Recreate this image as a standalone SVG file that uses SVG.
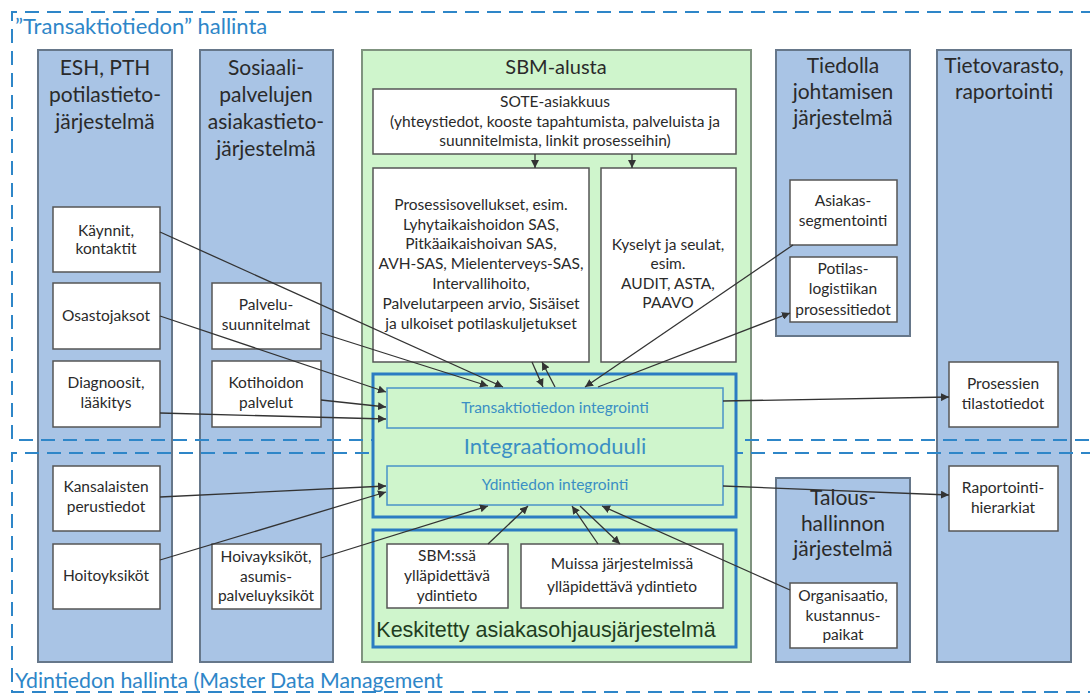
<svg xmlns="http://www.w3.org/2000/svg" width="1090" height="698" viewBox="0 0 1090 698">
<defs>
<marker id="ah" viewBox="0 0 8 8" markerWidth="8" markerHeight="8" refX="8" refY="4" orient="auto" markerUnits="userSpaceOnUse">
<path d="M0,0 L8,4 L0,8 z" fill="#333"/>
</marker>
<style>
.col{fill:#a9c4e5;stroke:#66778a;stroke-width:2}
.box{fill:#fff;stroke:#555;stroke-width:1.5}
.grn{fill:#cff5cc;stroke:#7f937f;stroke-width:2}
.bbox{fill:#cff5cc;stroke:#2b7cc2;stroke-width:3}
.ibox{fill:#cff5cc;stroke:#4a93c8;stroke-width:1.5}
.dash{fill:none;stroke:#2e86c8;stroke-width:2;stroke-dasharray:14 8}
.hd{font-family:Lato,"Liberation Sans",sans-serif;font-size:21px;fill:#2a2a2a;text-anchor:middle}
.t{font-family:Lato,"Liberation Sans",sans-serif;font-size:15.5px;fill:#2a2a2a;text-anchor:middle}
.bl{font-family:Lato,"Liberation Sans",sans-serif;fill:#3a8fc4;text-anchor:middle}
.ttl{font-family:Lato,"Liberation Sans",sans-serif;font-size:22px;fill:#2e86c8}
.con{fill:none;stroke:#333;stroke-width:1.3;marker-end:url(#ah)}
</style>
</defs>
<rect width="1090" height="698" fill="#fff"/>

<g id="col-esh">
<rect class="col" x="38" y="50" width="134" height="612"/>
<text class="hd" x="105" y="75">ESH, PTH</text>
<text class="hd" x="105" y="102">potilastieto-</text>
<text class="hd" x="105" y="129">järjestelmä</text>
</g>
<g id="col-sos">
<rect class="col" x="200" y="50" width="133" height="612"/>
<text class="hd" x="266" y="75">Sosiaali-</text>
<text class="hd" x="266" y="102">palvelujen</text>
<text class="hd" x="266" y="129">asiakastieto-</text>
<text class="hd" x="266" y="156">järjestelmä</text>
</g>
<g id="col-sbm">
<rect class="grn" x="362" y="50" width="389" height="612"/>
<text class="hd" x="556" y="74" style="font-size:20px">SBM-alusta</text>
</g>
<g id="col-tiedolla">
<rect class="col" x="776" y="50" width="134" height="286"/>
<text class="hd" x="843" y="73">Tiedolla</text>
<text class="hd" x="843" y="99">johtamisen</text>
<text class="hd" x="843" y="125">järjestelmä</text>
</g>
<g id="col-tietovarasto">
<rect class="col" x="937" y="50" width="134" height="612"/>
<text class="hd" x="1004" y="73">Tietovarasto,</text>
<text class="hd" x="1004" y="99">raportointi</text>
</g>
<g id="col-talous">
<rect class="col" x="776" y="478" width="134" height="184"/>
<text class="hd" x="843" y="505">Talous-</text>
<text class="hd" x="843" y="531">hallinnon</text>
<text class="hd" x="843" y="556">järjestelmä</text>
</g>

<g id="regions">
<path class="dash" d="M1095,12 H12 V440 H1095"/>
<path class="dash" d="M1095,453 H12 V692 H1095"/>
<text class="ttl" x="15" y="34">”Transaktiotiedon” hallinta</text>
<text class="ttl" x="15" y="688" style="font-size:21.3px">Ydintiedon hallinta (Master Data Management</text>
</g>

<g id="n-kaynnit"><rect class="box" x="53" y="207" width="107" height="65"/>
<text class="t" x="106" y="236">Käynnit,</text><text class="t" x="106" y="254">kontaktit</text></g>
<g id="n-osasto"><rect class="box" x="53" y="283" width="107" height="66"/>
<text class="t" x="106" y="321">Osastojaksot</text></g>
<g id="n-diagnoosit"><rect class="box" x="53" y="361" width="107" height="66"/>
<text class="t" x="106" y="388">Diagnoosit,</text><text class="t" x="106" y="408">lääkitys</text></g>
<g id="n-kansalaisten"><rect class="box" x="53" y="466" width="107" height="65"/>
<text class="t" x="106" y="492">Kansalaisten</text><text class="t" x="106" y="512">perustiedot</text></g>
<g id="n-hoitoyksikot"><rect class="box" x="53" y="544" width="107" height="65"/>
<text class="t" x="106" y="581">Hoitoyksiköt</text></g>

<g id="n-palvelusuunn"><rect class="box" x="212" y="283" width="109" height="66"/>
<text class="t" x="266" y="310">Palvelu-</text><text class="t" x="266" y="330">suunnitelmat</text></g>
<g id="n-kotihoidon"><rect class="box" x="212" y="361" width="109" height="66"/>
<text class="t" x="266" y="388">Kotihoidon</text><text class="t" x="266" y="408">palvelut</text></g>
<g id="n-hoivayksikot"><rect class="box" x="212" y="544" width="109" height="65"/>
<text class="t" x="266" y="562">Hoivayksiköt,</text><text class="t" x="266" y="582">asumis-</text><text class="t" x="266" y="601">palveluyksiköt</text></g>

<g id="n-sote"><rect class="box" x="373" y="89" width="363" height="65"/>
<text class="t" x="555" y="107">SOTE-asiakkuus</text>
<text class="t" x="555" y="127">(yhteystiedot, kooste tapahtumista, palveluista ja</text>
<text class="t" x="555" y="146">suunnitelmista, linkit prosesseihin)</text></g>
<g id="n-prosessi"><rect class="box" x="373" y="168" width="216" height="194"/>
<text class="t" x="481" y="210">Prosessisovellukset, esim.</text>
<text class="t" x="481" y="230">Lyhytaikaishoidon SAS,</text>
<text class="t" x="481" y="249">Pitkäaikaishoivan SAS,</text>
<text class="t" x="481" y="269">AVH-SAS, Mielenterveys-SAS,</text>
<text class="t" x="481" y="289">Intervallihoito,</text>
<text class="t" x="481" y="309">Palvelutarpeen arvio, Sisäiset</text>
<text class="t" x="481" y="329">ja ulkoiset potilaskuljetukset</text></g>
<g id="n-kyselyt"><rect class="box" x="601" y="168" width="135" height="194"/>
<text class="t" x="668" y="250">Kyselyt ja seulat,</text>
<text class="t" x="668" y="269">esim.</text>
<text class="t" x="668" y="289">AUDIT, ASTA,</text>
<text class="t" x="668" y="308">PAAVO</text></g>

<g id="n-integraatio"><rect class="bbox" x="373" y="374" width="363" height="143"/>
<text class="bl" x="555" y="454" style="font-size:22px">Integraatiomoduuli</text></g>
<g id="n-trans"><rect class="ibox" x="387" y="388" width="336" height="40"/>
<text class="bl" x="555" y="413" style="font-size:15.5px">Transaktiotiedon integrointi</text></g>
<g id="n-ydin"><rect class="ibox" x="387" y="466" width="336" height="39"/>
<text class="bl" x="555" y="490" style="font-size:15.5px">Ydintiedon integrointi</text></g>

<g id="n-keskitetty"><rect class="bbox" x="373" y="530" width="363" height="117"/>
<text x="546" y="637" style="font-family:'Liberation Sans',Arial,sans-serif;font-size:21.5px;fill:#1f3d1f;text-anchor:middle">Keskitetty asiakasohjausjärjestelmä</text></g>
<g id="n-sbmssa"><rect class="box" x="387" y="544" width="121" height="64"/>
<text class="t" x="447" y="561">SBM:ssä</text><text class="t" x="447" y="581">ylläpidettävä</text><text class="t" x="447" y="601">ydintieto</text></g>
<g id="n-muissa"><rect class="box" x="521" y="544" width="202" height="64"/>
<text class="t" x="622" y="569">Muissa järjestelmissä</text><text class="t" x="622" y="592">ylläpidettävä ydintieto</text></g>

<g id="n-asiakasseg"><rect class="box" x="790" y="180" width="107" height="65"/>
<text class="t" x="843" y="206">Asiakas-</text><text class="t" x="843" y="226">segmentointi</text></g>
<g id="n-potilaslog"><rect class="box" x="790" y="257" width="107" height="65"/>
<text class="t" x="843" y="274">Potilas-</text><text class="t" x="843" y="294">logistiikan</text><text class="t" x="843" y="315">prosessitiedot</text></g>
<g id="n-prosessien"><rect class="box" x="949" y="362" width="109" height="65"/>
<text class="t" x="1003" y="389">Prosessien</text><text class="t" x="1003" y="409">tilastotiedot</text></g>
<g id="n-raportointi"><rect class="box" x="949" y="466" width="109" height="65"/>
<text class="t" x="1003" y="493">Raportointi-</text><text class="t" x="1003" y="513">hierarkiat</text></g>
<g id="n-organisaatio"><rect class="box" x="790" y="583" width="107" height="65"/>
<text class="t" x="843" y="601">Organisaatio,</text><text class="t" x="843" y="621">kustannus-</text><text class="t" x="843" y="640">paikat</text></g>

<g id="connectors">
<path class="con" d="M160,232 L503,387"/>
<path class="con" d="M321,333 L488,386"/>
<path class="con" d="M160,316 L386,392"/>
<path class="con" d="M321,400 L386,407"/>
<path class="con" d="M160,413 L386,419"/>
<path class="con" d="M160,497 L386,486"/>
<path class="con" d="M160,560 L386,492"/>
<path class="con" d="M321,558 L488,506"/>
<path class="con" d="M488,544 L528,506"/>
<path class="con" d="M598,544 L572,506"/>
<path class="con" d="M580,506 L620,544"/>
<path class="con" d="M790,590 L602,506"/>
<path class="con" d="M723,486 L949,495"/>
<path class="con" d="M723,401 L949,397"/>
<path class="con" d="M793,245 L585,387"/>
<path class="con" d="M598,387 L790,313"/>
<path class="con" d="M532,362 L543,387"/>
<path class="con" d="M555,387 L542,362"/>
<path class="con" d="M535,154 L535,168"/>
<path class="con" d="M632,154 L632,168"/>
</g>
</svg>
